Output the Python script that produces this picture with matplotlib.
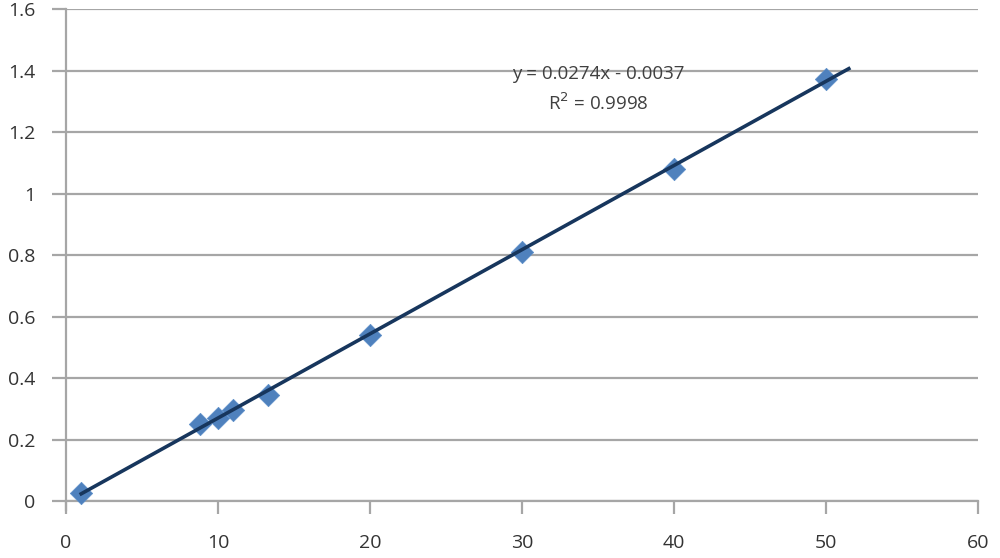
import matplotlib
matplotlib.use("Agg")
import matplotlib.pyplot as plt
import numpy as np

# concentration vs absorbance readings
conc = [1, 8.8, 10, 11, 13.3, 20, 30, 40, 50]
absorb = [0.026, 0.25, 0.27, 0.298, 0.345, 0.54, 0.81, 1.08, 1.375]

# linear trendline (from the chart's label)
slope = 0.0274
intercept = -0.0037
trend_x = [1, 51.5]

x_ticks = [0, 10, 20, 30, 40, 50, 60]
y_ticks = [0, 0.2, 0.4, 0.6, 0.8, 1, 1.2, 1.4, 1.6]
y_labels = ["0", "0.2", "0.4", "0.6", "0.8", "1", "1.2", "1.4", "1.6"]

plt.rcParams['font.family'] = ['Open Sans', 'DejaVu Sans']

fig = plt.figure(figsize=(10, 5.58), dpi=100)
ax = fig.add_axes([0.066, 0.102, 0.912, 0.881])

grid_col = '#a6a6a6'
ax.set_xlim(0, 60)
ax.set_ylim(0, 1.6)
ax.set_yticks(y_ticks)
ax.set_yticklabels(y_labels)
ax.set_xticks(x_ticks)
ax.yaxis.grid(True, color=grid_col, linewidth=1.6)
ax.set_axisbelow(True)
for side in ['top', 'right']:
    ax.spines[side].set_visible(False)
for side in ['left', 'bottom']:
    ax.spines[side].set_color(grid_col)
    ax.spines[side].set_linewidth(1.6)
ax.spines['left'].set_bounds(-0.03, 1.6)
ax.tick_params(axis='y', direction='out', length=10, width=1.6, color=grid_col,
               labelsize=14, labelcolor='#333333', pad=12)
ax.tick_params(axis='x', direction='out', length=9, width=1.6, color=grid_col,
               labelsize=14, labelcolor='#333333', pad=15)

ax.scatter(conc, absorb, marker='D', s=130, color='#4f81bd', edgecolors='#5b8ec9',
           linewidths=0.5, zorder=3, clip_on=False)

tx = np.array(trend_x)
ax.plot(tx, slope * tx + intercept, color='#17365d', linewidth=2.6, zorder=4)

ax.text(35.0, 1.39, "y = 0.0274x - 0.0037", ha='center', va='center',
        fontsize=13.5, color='#404040', zorder=5)
ax.text(35.0, 1.295, "R$^2$ = 0.9998", ha='center', va='center',
        fontsize=13.5, color='#404040', zorder=5)

fig.savefig("out.png", dpi=100)
